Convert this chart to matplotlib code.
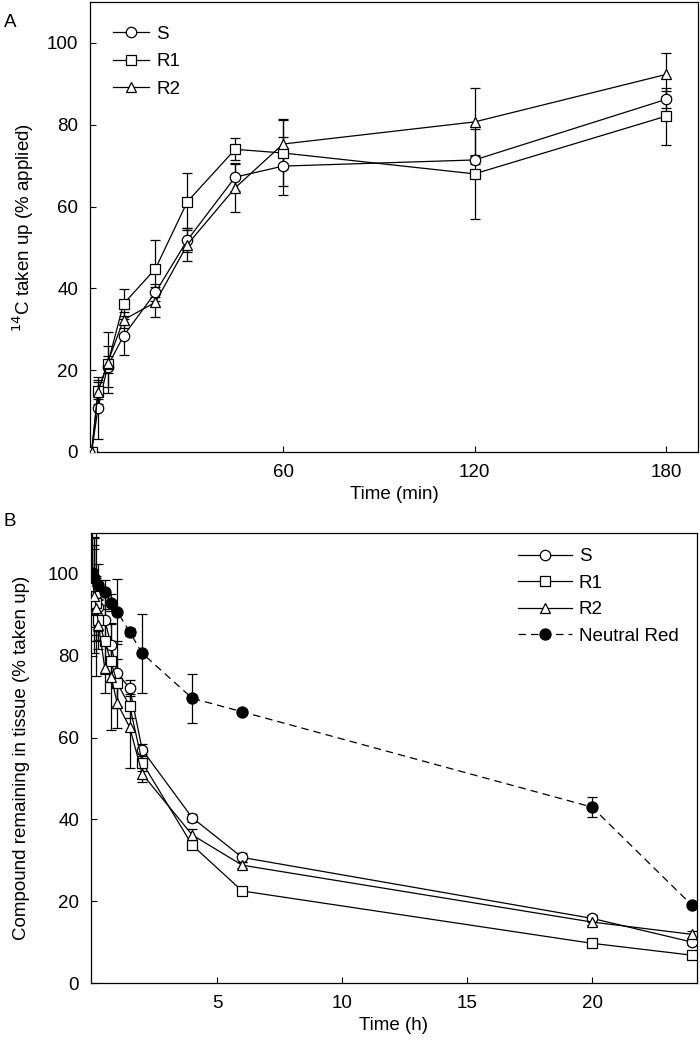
import numpy as np
import matplotlib
matplotlib.use('Agg')
import matplotlib.pyplot as plt

plt.rcParams['font.family'] = ['Liberation Sans', 'DejaVu Sans']
plt.rcParams['font.size'] = 13.5

# panel A: uptake (min)
tA = [0, 2, 5, 10, 20, 30, 45, 60, 120, 180]
A_S = [0, 10.8, 20.9, 28.4, 39.0, 51.8, 67.2, 69.9, 71.4, 86.2]
A_R1 = [0, 15.0, 21.4, 36.2, 44.8, 61.2, 74.0, 73.1, 68.0, 82.1]
A_R2 = [0, 14.7, 21.8, 32.3, 36.6, 50.7, 64.6, 75.3, 80.7, 92.3]
A_S_err = [0, 7.6, 5, 4.8, 2, 3, 3.3, 7, 1, 2]
A_R1_err = [0, 2, 2, 3.6, 7, 7, 2.7, 8, 11, 7]
A_R2_err = [0, 3, 7.5, 2, 3.7, 4, 6, 6, 8.2, 5.3]

# panel B: efflux (h)
tB = [0, 0.083, 0.167, 0.25, 0.5, 0.75, 1, 1.5, 2, 4, 6, 20, 24]
B_S = [100, 98, 95, 92, 88.8, 82.7, 75.7, 72.1, 57.0, 40.4, 30.7, 15.8, 10.0]
B_R1 = [100, 97, 93, 88.8, 83.5, 78.6, 73.3, 67.7, 53.9, 33.7, 22.5, 9.7, 6.8]
B_R2 = [100, 94.7, 91.6, 87.6, 77.0, 74.9, 68.4, 62.5, 51.1, 36.2, 28.8, 14.9, 11.9]
B_S_err = [0, 8, 20, 6, 6, 5, 8, 2, 1.5, 1, 1, 0.8, 0.8]
B_R1_err = [0, 12, 6, 5, 8, 5, 6, 3, 2, 1, 0.5, 0.5, 0.5]
B_R2_err = [0, 14, 8, 6, 6, 13, 6, 10, 2, 1.5, 0.8, 0.8, 0.8]
tN = [0, 0.083, 0.25, 0.5, 0.75, 1, 1.5, 2, 4, 6, 20, 24]
B_NR = [100.2, 99.0, 97.4, 95.5, 93.0, 90.8, 85.8, 80.6, 69.6, 66.3, 43.0, 19.0]
B_NR_err = [10, 8, 5, 3, 2, 8, 1, 9.7, 6, 0.5, 2.5, 0.5]

labels = ['S', 'R1', 'R2']
markers = ['o', 's', '^']

fig = plt.figure(figsize=(7, 10.4), dpi=100)
axA = fig.add_axes([0.1286, 0.5654, 0.8684, 0.4326])
axB = fig.add_axes([0.13, 0.0548, 0.8657, 0.4327])

def series(ax, t, y, e, m, ls='-', mfc='white', ms=7.5, lab=None):
    ax.errorbar(t, y, yerr=e, fmt='none', ecolor='black', elinewidth=0.9,
                capsize=3.5, capthick=0.9, zorder=2)
    h, = ax.plot(t, y, ls=ls, color='black', lw=0.9, marker=m, ms=ms,
                 mfc=mfc, mec='black', mew=0.9, zorder=3, label=lab)
    return h

hA = []
for y, e, m, lab in zip([A_S, A_R1, A_R2], [A_S_err, A_R1_err, A_R2_err], markers, labels):
    hA.append(series(axA, tA, y, e, m, lab=lab))

hB = []
for y, e, m, lab in zip([B_S, B_R1, B_R2], [B_S_err, B_R1_err, B_R2_err], markers, labels):
    hB.append(series(axB, tB, y, e, m, lab=lab))
hB.append(series(axB, tN, B_NR, B_NR_err, 'o', ls=(0, (6, 4)), mfc='black', ms=8, lab='Neutral Red'))

axA.set_xlim(-0.5, 190)
axA.set_ylim(0, 110)
axA.set_xticks([60, 120, 180])
axA.set_yticks([0, 20, 40, 60, 80, 100])
axA.set_xlabel('Time (min)', labelpad=4)
axA.set_ylabel('$^{14}$C taken up (% applied)', labelpad=8)

axB.set_xlim(-0.05, 24.2)
axB.set_ylim(0, 110)
axB.set_xticks([5, 10, 15, 20])
axB.set_yticks([0, 20, 40, 60, 80, 100])
axB.set_xlabel('Time (h)', labelpad=4)
axB.set_ylabel('Compound remaining in tissue (% taken up)', labelpad=13)

for ax in (axA, axB):
    ax.tick_params(direction='in', length=4, width=0.8, pad=8.5, top=False, right=False, labelsize=13.5)
    for sp in ax.spines.values():
        sp.set_linewidth(0.9)

axA.legend(handles=hA, loc='upper left', bbox_to_anchor=(0.1614, 0.9755),
           bbox_transform=fig.transFigure, frameon=False, handlelength=1.9,
           handletextpad=0.4, borderaxespad=0, borderpad=0, labelspacing=0.56)
axB.legend(handles=hB, loc='upper left', bbox_to_anchor=(0.74, 0.473),
           bbox_transform=fig.transFigure, frameon=False, handlelength=2.9,
           handletextpad=0.35, borderaxespad=0, borderpad=0, labelspacing=0.5)

fig.text(0.005, 0.974, 'A', fontsize=13.5)
fig.text(0.005, 0.494, 'B', fontsize=13.5)

fig.savefig('out.png', dpi=100)
